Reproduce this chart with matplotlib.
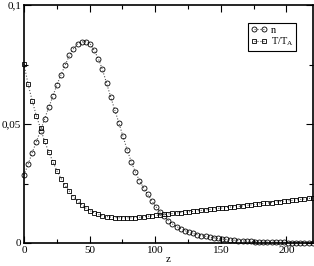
import matplotlib
matplotlib.use("Agg")
import matplotlib.pyplot as plt
from matplotlib.ticker import FixedLocator

plt.rcParams['font.family'] = ['Liberation Serif', 'DejaVu Serif']
plt.rcParams['mathtext.fontset'] = 'custom'
plt.rcParams['mathtext.rm'] = 'Liberation Serif'
plt.rcParams['mathtext.it'] = 'Liberation Serif'

z = [0.0, 3.1, 6.3, 9.4, 12.6, 15.7, 18.9, 22.0, 25.1, 28.3,
     31.4, 34.6, 37.7, 40.9, 44.0, 47.1, 50.3, 53.4, 56.6, 59.7,
     62.9, 66.0, 69.1, 72.3, 75.4, 78.6, 81.7, 84.9, 88.0, 91.1,
     94.3, 97.4, 100.6, 103.7, 106.9, 110.0, 113.1, 116.3, 119.4, 122.6,
     125.7, 128.9, 132.0, 135.1, 138.3, 141.4, 144.6, 147.7, 150.9, 154.0,
     157.1, 160.3, 163.4, 166.6, 169.7, 172.9, 176.0, 179.1, 182.3, 185.4,
     188.6, 191.7, 194.9, 198.0, 201.1, 204.3, 207.4, 210.6, 213.7, 216.9,
     220.0]

n_vals = [0.0285, 0.0330, 0.0380, 0.0425, 0.0472, 0.0522, 0.0570, 0.0617, 0.0665, 0.0708,
          0.0748, 0.0788, 0.0817, 0.0837, 0.0845, 0.0846, 0.0838, 0.0810, 0.0775, 0.0730,
          0.0672, 0.0615, 0.0560, 0.0505, 0.0448, 0.0392, 0.0342, 0.0298, 0.0262, 0.0232,
          0.0204, 0.0177, 0.0152, 0.0130, 0.0112, 0.0094, 0.0080, 0.0069, 0.0060, 0.0052,
          0.0045, 0.0040, 0.0035, 0.0031, 0.0028, 0.0025, 0.0022, 0.0019, 0.0017, 0.0015,
          0.0013, 0.0012, 0.0010, 0.0009, 0.0008, 0.0007, 0.0006, 0.0005, 0.0005, 0.0004,
          0.0004, 0.0003, 0.0003, 0.0003, 0.0002, 0.0002, 0.0002, 0.0002, 0.0001, 0.0001,
          0.0001]

t_vals = [0.0752, 0.0668, 0.0597, 0.0535, 0.0482, 0.0427, 0.0382, 0.0342, 0.0303, 0.0271,
          0.0242, 0.0217, 0.0195, 0.0177, 0.0161, 0.0147, 0.0136, 0.0127, 0.0120, 0.0114,
          0.0111, 0.0109, 0.0107, 0.0106, 0.0106, 0.0106, 0.0106, 0.0107, 0.0108, 0.0110,
          0.0112, 0.0114, 0.0116, 0.0118, 0.0120, 0.0122, 0.0124, 0.0126, 0.0128, 0.0130,
          0.0131, 0.0133, 0.0135, 0.0137, 0.0139, 0.0141, 0.0143, 0.0145, 0.0147, 0.0149,
          0.0151, 0.0152, 0.0154, 0.0156, 0.0158, 0.0160, 0.0162, 0.0164, 0.0166, 0.0168,
          0.0170, 0.0172, 0.0174, 0.0176, 0.0177, 0.0179, 0.0181, 0.0183, 0.0185, 0.0187,
          0.0189]

x_ticks = [0, 50, 100, 150, 200]
x_minor = [25, 75, 125, 175, 225]
y_ticks = [0, 0.05, 0.1]
y_tick_labels = ["0", "0,05", "0,1"]
y_minor = [0.025, 0.075]

fig = plt.figure(figsize=(3.14, 2.66), dpi=100)
ax = fig.add_axes([0.0764, 0.0865, 0.9196, 0.8945])

ax.plot(z, n_vals, linestyle=':', color='#555555', linewidth=0.8,
        marker='o', markersize=3.6, markerfacecolor='none',
        markeredgecolor='black', markeredgewidth=0.6, label='n', clip_on=False)
ax.plot(z, t_vals, linestyle=':', color='#555555', linewidth=0.8,
        marker='s', markersize=3.2, markerfacecolor='none',
        markeredgecolor='black', markeredgewidth=0.6, label='T/T$_\\mathrm{A}$',
        clip_on=False)

ax.set_xlim(0, 220)
ax.set_ylim(0, 0.1)
ax.xaxis.set_major_locator(FixedLocator(x_ticks))
ax.xaxis.set_minor_locator(FixedLocator(x_minor))
ax.yaxis.set_major_locator(FixedLocator(y_ticks))
ax.yaxis.set_minor_locator(FixedLocator(y_minor))
ax.set_yticklabels(y_tick_labels)

ax.tick_params(which='both', direction='in', top=True, right=True,
               labelsize=8, width=0.8, pad=2)
ax.tick_params(which='major', length=5)
ax.tick_params(which='minor', length=3)
for s in ax.spines.values():
    s.set_linewidth(1.2)

ax.set_xlabel('z', fontsize=8, labelpad=0)

leg = ax.legend(loc='upper right', bbox_to_anchor=(0.942, 0.925), fontsize=7.5,
                numpoints=2, handlelength=1.6, handletextpad=0.3,
                borderpad=0.25, labelspacing=0.1, borderaxespad=0.0,
                fancybox=False, framealpha=1, edgecolor='black')
leg.get_frame().set_linewidth(0.8)

fig.savefig('out.png', dpi=100)
